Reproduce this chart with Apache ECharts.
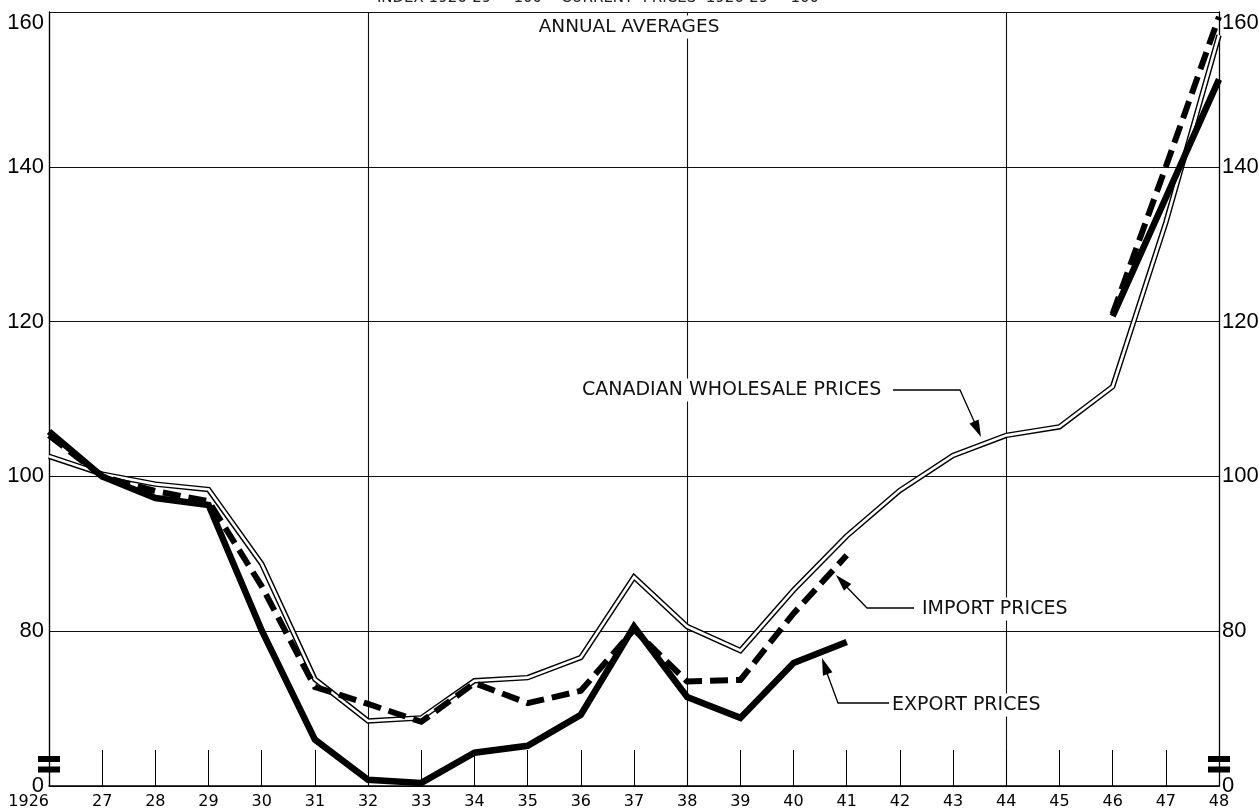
<!DOCTYPE html>
<html>
<head>
<meta charset="utf-8">
<title>Canadian Import, Export and Wholesale Prices</title>
<script src="https://cdn.jsdelivr.net/npm/echarts@6/dist/echarts.min.js"></script>
<style>
  html, body { margin: 0; padding: 0; background: #fff; }
  #chart { width: 1259px; height: 812px; }
</style>
</head>
<body>
<div id="chart"></div>
<script>
// annual averages, index numbers
const years = ['1926', '27', '28', '29', '30', '31', '32', '33', '34', '35', '36', '37',
  '38', '39', '40', '41', '42', '43', '44', '45', '46', '47', '48']
const wholesalePrices = [102.6, 100.3, 99.0, 98.3, 88.7, 73.8, 68.4, 68.8, 73.6, 74.0, 76.6, 87.0,
  80.6, 77.5, 85.3, 92.3, 98.2, 102.7, 105.3, 106.4, 111.6, 132.8, 157.0]
const importPrices = [105.3, 100.0, 98.1, 96.8, 85.8, 72.8, 70.6, 68.3, 73.3, 70.7, 72.3, 80.2,
  73.5, 73.7, 82.3, 89.8, null, null, null, null, 121.0, 140.0, 159.4]
const exportPrices = [105.8, 100.0, 97.2, 96.3, 80.1, 66.0, 60.8, 60.4, 64.3, 65.2, 69.2, 80.6,
  71.5, 68.8, 75.9, 78.6, null, null, null, null, 120.7, 136.0, 151.3]
const yTicks = [60, 80, 100, 120, 140, 160]

const font = 'DejaVu Sans'
const chart = echarts.init(document.getElementById('chart'))

// filled arrow head pointing from (fx, fy) to the tip (tx, ty)
function arrowHead(tx, ty, fx, fy) {
  const dx = tx - fx
  const dy = ty - fy
  const len = Math.sqrt(dx * dx + dy * dy)
  const ux = dx / len
  const uy = dy / len
  const bx = tx - ux * 17
  const by = ty - uy * 17
  return {
    type: 'polygon',
    z: 110,
    shape: { points: [[tx, ty], [bx - uy * 5, by + ux * 5], [bx + uy * 5, by - ux * 5]] },
    style: { fill: '#000' }
  }
}

function leader(points) {
  return {
    type: 'polyline',
    z: 105,
    shape: { points: points },
    style: { stroke: '#000', lineWidth: 1.3, fill: null }
  }
}

function note(text, x, y, size, align) {
  return {
    type: 'text',
    z: 120,
    x: x,
    y: y,
    style: {
      text: text,
      font: size + 'px "' + font + '"',
      fill: '#111',
      align: align || 'left',
      verticalAlign: 'middle',
      backgroundColor: '#fff',
      padding: [2, 3]
    }
  }
}

function breakMark(x) {
  return [
    { type: 'rect', z: 120, shape: { x: x, y: 756, width: 22, height: 6 }, style: { fill: '#000' } },
    { type: 'rect', z: 120, shape: { x: x, y: 766.5, width: 22, height: 6 }, style: { fill: '#000' } }
  ]
}

const yAxisBase = {
  type: 'value',
  min: 60,
  max: 160,
  interval: 20,
  axisLine: { show: true, lineStyle: { color: '#000', width: 1.3 } },
  axisTick: { show: false },
  axisLabel: {
    color: '#000',
    fontFamily: 'Liberation Sans',
    fontSize: 22,
    verticalAlignMaxLabel: 'top',
    formatter: v => (v === yTicks[0] ? '0' : String(v))
  }
}

const option = {
  animation: false,
  backgroundColor: '#fff',
  grid: { left: 49, right: 40, top: 12, bottom: 26, outerBoundsMode: 'none', containLabel: false },
  xAxis: {
    type: 'category',
    data: years,
    boundaryGap: false,
    axisLine: { lineStyle: { color: '#000', width: 1.5 } },
    axisTick: { show: true, inside: true, length: 36, interval: 0, lineStyle: { color: '#000', width: 1 } },
    axisLabel: {
      color: '#000',
      fontFamily: font,
      fontSize: 16,
      margin: 8,
      interval: 0,
      alignMinLabel: 'right'
    },
    splitLine: {
      show: true,
      interval: idx => idx % 6 === 0,
      lineStyle: { color: '#111', width: 1.1 }
    }
  },
  yAxis: [
    Object.assign({}, yAxisBase, {
      position: 'left',
      axisLabel: Object.assign({}, yAxisBase.axisLabel, { margin: 5 }),
      splitLine: { show: true, lineStyle: { color: '#111', width: 1.1 } }
    }),
    Object.assign({}, yAxisBase, {
      position: 'right',
      axisLabel: Object.assign({}, yAxisBase.axisLabel, { margin: 3 }),
      splitLine: { show: false }
    })
  ],
  series: [
    {
      name: 'Canadian wholesale prices',
      type: 'line',
      data: wholesalePrices,
      symbol: 'none',
      z: 2,
      lineStyle: { color: '#000', width: 5.5, join: 'miter' }
    },
    {
      name: 'Canadian wholesale prices (inner)',
      type: 'line',
      data: wholesalePrices,
      symbol: 'none',
      z: 3,
      lineStyle: { color: '#fff', width: 2.6, join: 'miter' }
    },
    {
      name: 'Import prices',
      type: 'line',
      data: importPrices,
      symbol: 'none',
      z: 4,
      lineStyle: { color: '#000', width: 6, type: [18, 8], join: 'miter' }
    },
    {
      name: 'Export prices',
      type: 'line',
      data: exportPrices,
      symbol: 'none',
      z: 5,
      lineStyle: { color: '#000', width: 6.5, join: 'miter' }
    }
  ],
  graphic: [
    // header, cut off by the top edge of the sheet
    {
      type: 'text', z: 120, x: 598, y: -2,
      style: { text: 'INDEX 1926-29 = 100    CURRENT  PRICES  1926-29 = 100', font: '15px "' + font + '"', fill: '#222', align: 'center', verticalAlign: 'middle' }
    },
    note('ANNUAL AVERAGES', 629, 27, 18.5, 'center'),
    note('CANADIAN WHOLESALE PRICES', 579, 390, 19),
    note('IMPORT PRICES', 919, 609, 19),
    note('EXPORT PRICES', 889, 705, 19),
    leader([[893, 390], [960, 390], [978, 430]]),
    arrowHead(981, 437, 960, 390),
    leader([[914, 608], [867, 608], [840, 580]]),
    arrowHead(836, 575, 867, 608),
    leader([[889, 703], [838, 703], [824, 665]]),
    arrowHead(822, 658, 838, 703)
  ].concat(breakMark(38), breakMark(1208))
}

chart.setOption(option)
</script>
</body>
</html>
